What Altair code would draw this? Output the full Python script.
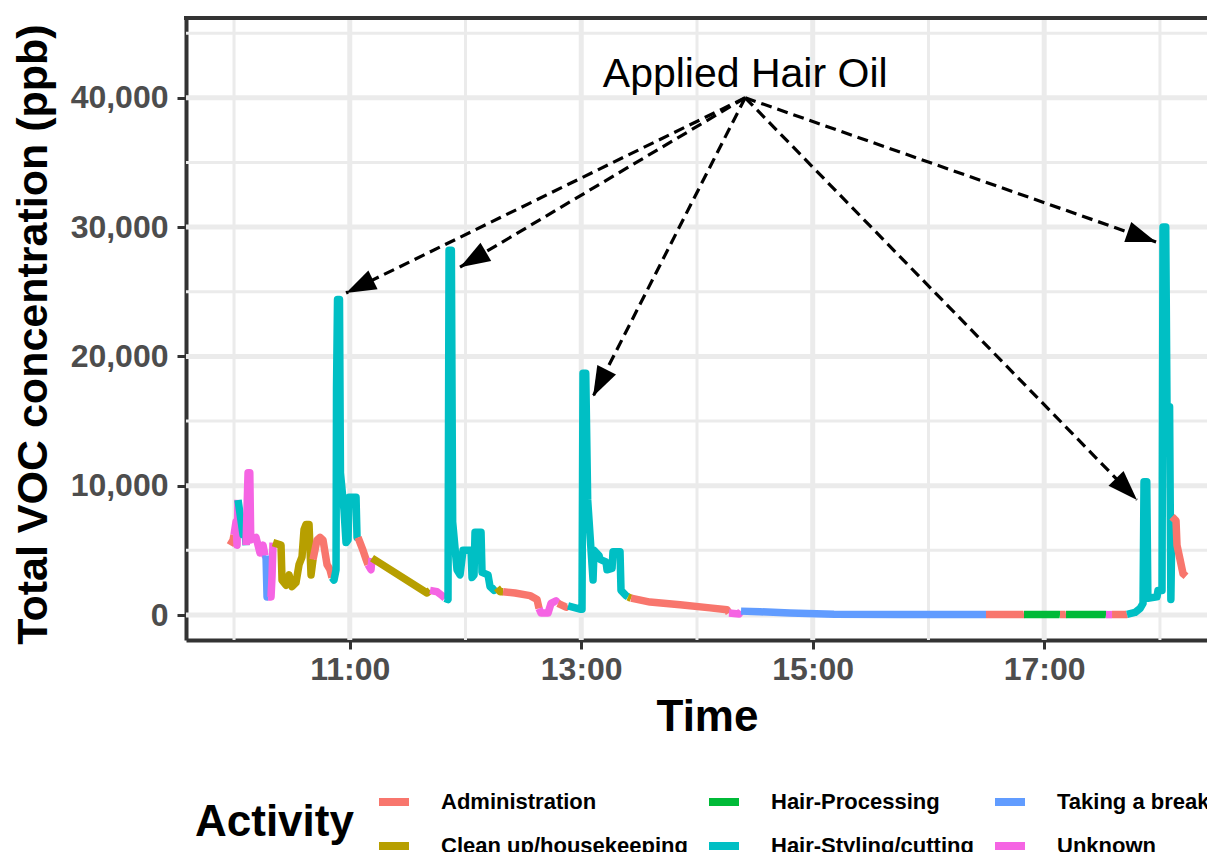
import math
import altair as alt
import pandas as pd

# ---------------- data ----------------
activities = ["Administration", "Clean up/housekeeping", "Hair-Processing",
              "Hair-Styling/cutting", "Taking a break", "Unknown"]
activity_colors = ["#F8766D", "#B79F00", "#00BA38", "#00BFC4", "#619CFF", "#F564E3"]
codes = {"A": "Administration", "C": "Clean up/housekeeping", "P": "Hair-Processing",
         "S": "Hair-Styling/cutting", "B": "Taking a break", "U": "Unknown"}

times = [
    "09:57:56", "09:59:29", "10:00:00", "10:01:02", "10:01:34", "10:02:04", "10:03:38", "10:04:40",
    "10:05:42", "10:06:13", "10:07:16", "10:08:10", "10:08:40", "10:11:24", "10:13:29", "10:15:02",
    "10:16:04", "10:16:35", "10:17:07", "10:17:38", "10:19:11", "10:19:42", "10:20:13", "10:24:22",
    "10:24:53", "10:26:58", "10:28:31", "10:30:04", "10:32:08", "10:33:42", "10:35:15", "10:36:17",
    "10:37:20", "10:38:53", "10:39:55", "10:40:57", "10:43:02", "10:44:35", "10:46:08", "10:48:13",
    "10:49:46", "10:50:48", "10:51:50", "10:52:53", "10:53:08", "10:53:39", "10:54:40", "10:55:10",
    "10:57:01", "10:58:04", "10:59:06", "10:59:37", "11:03:15", "11:03:46", "11:04:17", "11:06:52",
    "11:08:26", "11:09:28", "11:11:01", "11:11:32", "11:40:03", "11:41:37", "11:45:14", "11:47:50",
    "11:49:23", "11:50:56", "11:51:28", "11:52:40", "11:53:20", "11:55:36", "11:57:10", "11:58:43",
    "12:02:52", "12:03:23", "12:04:25", "12:04:56", "12:08:03", "12:08:34", "12:11:40", "12:12:43",
    "12:14:47", "12:16:20", "12:17:54", "12:19:27", "12:25:40", "12:33:27", "12:37:05", "12:38:07",
    "12:39:09", "12:42:47", "12:44:20", "12:46:56", "12:47:58", "12:52:07", "12:53:09", "12:59:22",
    "13:00:24", "13:00:55", "13:02:20", "13:03:20", "13:06:07", "13:06:38", "13:09:13", "13:09:44",
    "13:12:51", "13:13:22", "13:15:58", "13:16:28", "13:20:06", "13:20:37", "13:23:13", "13:24:15",
    "13:25:49", "13:35:40", "13:51:13", "14:06:46", "14:15:34", "14:16:37", "14:21:47", "14:22:50",
    "14:32:41", "14:48:14", "15:11:02", "15:45:16", "16:29:19", "16:29:50", "16:49:01", "16:49:32",
    "17:07:41", "17:08:12", "17:10:47", "17:11:19", "17:31:32", "17:32:03", "17:34:38", "17:35:10",
    "17:42:25", "17:42:56", "17:47:05", "17:49:40", "17:51:14", "17:51:45", "17:53:10", "17:53:45",
    "17:58:29", "17:59:00", "18:01:05", "18:01:36", "18:03:00", "18:03:40", "18:05:00", "18:05:40",
    "18:06:16", "18:08:20", "18:08:51", "18:10:25", "18:11:58", "18:13:31",
]
voc = [
    5400, 5800, 6200, 7200, 5400, 8900, 7300, 6200,
    6600, 5400, 11000, 11000, 5800, 6000, 4800, 5400,
    4600, 4600, 1400, 1400, 1400, 3000, 5600, 5400,
    2700, 2300, 3100, 2200, 2500, 3900, 4500, 6600,
    7000, 7000, 3100, 4300, 5800, 6000, 5800, 3900,
    3500, 2900, 2700, 3500, 17600, 24400, 24400, 11000,
    8100, 5600, 5800, 9100, 9100, 6000, 6000, 5000,
    4300, 3900, 3500, 4400, 1700, 1900, 1800, 1500,
    1300, 1200, 28200, 28200, 7200, 3500, 3100, 5000,
    5000, 2900, 3100, 6400, 6400, 3300, 3100, 2200,
    1900, 2100, 1800, 1800, 1700, 1500, 1200, 500,
    150, 150, 900, 1100, 900, 600, 700, 450,
    450, 18700, 18700, 8900, 2700, 5000, 4600, 4300,
    4100, 3500, 3600, 4900, 4900, 1900, 1500, 1400,
    1300, 1000, 800, 550, 400, 150, 80, 300,
    250, 150, 60, 40, 30, 30, 30, 40,
    40, 30, 30, 40, 40, 30, 30, 30,
    30, 50, 200, 500, 900, 10300, 10300, 1300,
    1400, 1900, 1900, 30000, 30000, 16100, 16100, 1200,
    7600, 7300, 5400, 4300, 3200, 3000,
]
activity_code = [
    "A", "A", "U", "U", "U", "S", "S", "S",
    "S", "U", "U", "U", "U", "U", "U", "U",
    "U", "B", "B", "U", "U", "U", "C", "C",
    "C", "C", "C", "C", "C", "C", "C", "C",
    "C", "C", "C", "A", "A", "A", "A", "A",
    "A", "S", "S", "S", "S", "S", "S", "S",
    "S", "S", "S", "S", "S", "S", "A", "A",
    "A", "U", "U", "C", "C", "U", "U", "U",
    "S", "S", "S", "S", "S", "S", "S", "S",
    "S", "S", "S", "S", "S", "S", "S", "S",
    "S", "C", "C", "A", "A", "A", "A", "U",
    "U", "U", "U", "U", "A", "A", "S", "S",
    "S", "S", "S", "S", "S", "S", "S", "S",
    "S", "S", "S", "S", "S", "S", "S", "C",
    "A", "A", "A", "A", "A", "U", "U", "B",
    "B", "B", "B", "B", "B", "A", "A", "P",
    "P", "A", "A", "P", "P", "U", "U", "A",
    "A", "S", "S", "S", "S", "S", "S", "S",
    "S", "S", "S", "S", "S", "S", "S", "S",
    "A", "A", "A", "A", "A", "A",
]

# annotation
note_text = "Applied Hair Oil"
note_time = "14:25:00"
note_value = 41800
arrow_from_time = "14:25:00"
arrow_from_value = 40000
arrow_to_time = ["10:58:04", "11:57:10", "13:06:07", "17:58:00", "17:48:06"]
arrow_to_value = [24900, 26900, 16900, 28850, 8900]

# axes
x_major = ["11:00:00", "13:00:00", "15:00:00", "17:00:00"]
x_minor = ["10:00:00", "12:00:00", "14:00:00", "16:00:00", "18:00:00"]
y_major = [0, 10000, 20000, 30000, 40000]
y_minor = [5000, 15000, 25000, 35000, 45000]
x_domain = ["09:35:06", "18:24:24"]
y_domain = [-1933, 46170]


def to_min(s):
    h, m, sec = (int(p) for p in s.split(":"))
    return h * 60 + m + sec / 60.0


# ---------------- geometry ----------------
W, H = 1021, 622
FONT = "Liberation Sans"
xd = [to_min(s) for s in x_domain]
kx = W / (xd[1] - xd[0])
ky = H / (y_domain[1] - y_domain[0])

# ---------------- tables ----------------
acts = [codes[c] for c in activity_code]
rows = []
run = 0
for i in range(len(times)):
    tm = to_min(times[i])
    if i > 0 and acts[i] != acts[i - 1]:
        rows.append({"t": tm, "v": voc[i], "Activity": acts[i - 1], "run": run})
        run += 1
    rows.append({"t": tm, "v": voc[i], "Activity": acts[i], "run": run})
line_df = pd.DataFrame(rows)

t0 = to_min(arrow_from_time)
arr_rows = []
for tt, vv in zip(arrow_to_time, arrow_to_value):
    t1 = to_min(tt)
    dx = (t1 - t0) * kx
    dy = -(vv - arrow_from_value) * ky
    ang = math.degrees(math.atan2(dx, -dy)) % 360
    arr_rows.append({"t": t0, "v": arrow_from_value, "t2": t1, "v2": vv, "ang": ang})
arr_df = pd.DataFrame(arr_rows)

note_df = pd.DataFrame([{"t": to_min(note_time), "v": note_value, "label": note_text}])
xmaj_df = pd.DataFrame({"t": [to_min(s) for s in x_major]})
xmin_df = pd.DataFrame({"t": [to_min(s) for s in x_minor]})
ymaj_df = pd.DataFrame({"v": y_major})
ymin_df = pd.DataFrame({"v": y_minor})

xscale = alt.Scale(domain=xd, nice=False, zero=False)
yscale = alt.Scale(domain=y_domain, nice=False, zero=False)

grid_col = "#EBEBEB"
gx_minor = alt.Chart(xmin_df).mark_rule(color=grid_col, strokeWidth=3).encode(
    x=alt.X("t:Q", scale=xscale, axis=None))
gx_major = alt.Chart(xmaj_df).mark_rule(color=grid_col, strokeWidth=5).encode(
    x=alt.X("t:Q", scale=xscale, axis=None))
gy_minor = alt.Chart(ymin_df).mark_rule(color=grid_col, strokeWidth=3).encode(
    y=alt.Y("v:Q", scale=yscale, axis=None))
gy_major = alt.Chart(ymaj_df).mark_rule(color=grid_col, strokeWidth=5).encode(
    y=alt.Y("v:Q", scale=yscale, axis=None))

x_axis = alt.Axis(
    values=[to_min(s) for s in x_major],
    labelExpr="utcFormat(datum.value * 60000, '%H:%M')",
    grid=False, domain=True, domainColor="#333333", domainWidth=4,
    ticks=True, tickColor="#333333", tickWidth=3, tickSize=9,
    labelFont=FONT, labelFontSize=32, labelFontWeight="bold", labelColor="#4D4D4D",
    labelPadding=5, labelFlush=False,
    title="Time", titleFont=FONT, titleFontSize=44, titleFontWeight="bold",
    titleColor="#000000", titleX=521, titleY=90, titleBaseline="alphabetic",
    titleAlign="center",
)
y_axis = alt.Axis(
    values=y_major, format=",.0f",
    grid=False, domain=True, domainColor="#333333", domainWidth=4,
    ticks=True, tickColor="#333333", tickWidth=3, tickSize=9,
    labelFont=FONT, labelFontSize=32, labelFontWeight="bold", labelColor="#4D4D4D",
    labelPadding=9, labelFlush=False,
    title="Total VOC concentration (ppb)", titleFont=FONT, titleFontSize=43,
    titleFontWeight="bold", titleColor="#000000", titleAngle=270,
    titleX=-140, titleY=316, titleBaseline="alphabetic", titleAlign="center",
)

lines = alt.Chart(line_df).mark_line(strokeWidth=7.5, strokeJoin="round", strokeCap="butt").encode(
    x=alt.X("t:Q", scale=xscale, axis=x_axis),
    y=alt.Y("v:Q", scale=yscale, axis=y_axis),
    color=alt.Color(
        "Activity:N",
        scale=alt.Scale(domain=activities, range=activity_colors),
        legend=alt.Legend(
            orient="none", legendX=9, legendY=765, columns=3,
            title="Activity", titleOrient="left", titleFont=FONT, titleFontSize=44,
            titleFontWeight="bold", titleColor="#000000", titlePadding=21,
            titleAnchor="middle", titleBaseline="middle",
            labelFont=FONT, labelFontSize=22, labelFontWeight="bold", labelColor="#000000",
            labelOffset=28, labelLimit=400,
            symbolType="stroke", symbolSize=900, symbolStrokeWidth=8,
            columnPadding=5, rowPadding=9, gridAlign="each",
        ),
    ),
    detail="run:N",
)

arrows = alt.Chart(arr_df).mark_rule(color="black", strokeWidth=3.2, strokeDash=[11, 6]).encode(
    x=alt.X("t:Q", scale=xscale, axis=None),
    y=alt.Y("v:Q", scale=yscale, axis=None),
    x2="t2:Q", y2="v2:Q",
)
heads = alt.Chart(arr_df).mark_point(
    shape="M0,0L0.7,2L-0.7,2Z", filled=True, color="black", opacity=1, size=900, strokeWidth=0
).encode(
    x=alt.X("t2:Q", scale=xscale, axis=None),
    y=alt.Y("v2:Q", scale=yscale, axis=None),
    angle=alt.Angle("ang:Q", scale=None),
)
note = alt.Chart(note_df).mark_text(
    font=FONT, fontSize=41, color="black", baseline="middle", align="center"
).encode(
    x=alt.X("t:Q", scale=xscale, axis=None),
    y=alt.Y("v:Q", scale=yscale, axis=None),
    text="label:N",
)
top_border = alt.Chart(pd.DataFrame([{"k": 1}])).mark_rule(color="#333333", strokeWidth=4).encode(
    x=alt.value(-2), x2=alt.value(W), y=alt.value(0))

chart = alt.layer(
    gx_minor, gx_major, gy_minor, gy_major, lines, arrows, heads, note, top_border
).resolve_axis(
    x="independent", y="independent"
).properties(
    width=W, height=H,
    autosize=alt.AutoSizeParams(type="none"),
    padding={"left": 178, "top": 10, "right": 0, "bottom": 212},
    background="white",
).configure_view(stroke=None)

chart.save("out.html", embed_options={"renderer": "svg", "actions": False})
